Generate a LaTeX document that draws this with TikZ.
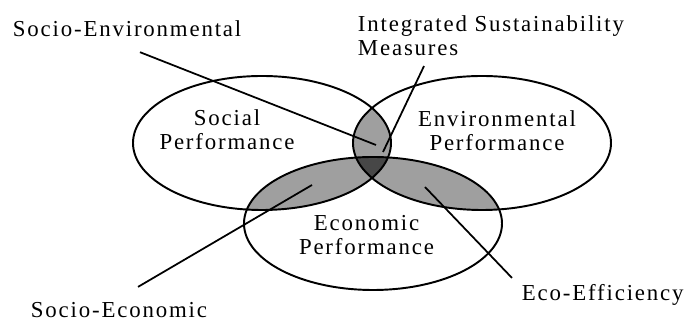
\documentclass[tikz,border=0pt]{standalone}
\usepackage{fontspec}
\setmainfont[LetterSpace=8]{Liberation Serif}
\begin{document}
\begin{tikzpicture}[line width=1.1pt,
  lbl/.style={inner sep=0pt,font=\fontsize{13pt}{13.7pt}\selectfont},
  perf/.style={lbl,align=center}]
\useasboundingbox (0,0) rectangle (13.76,6.5);
\def\socialpath{(5.24,3.64) ellipse (2.58 and 1.34)}
\def\envpath{(9.64,3.64) ellipse (2.58 and 1.34)}
\def\ecopath{(7.46,2.03) ellipse (2.58 and 1.33)}

% overlaps of two circles
\begin{scope}
\clip \socialpath;
\fill[gray!75] \envpath;
\fill[gray!75] \ecopath;
\end{scope}
\begin{scope}
\clip \envpath;
\fill[gray!75] \ecopath;
\end{scope}
% all three
\begin{scope}
\clip \socialpath;
\clip \envpath;
\fill[black!72] \ecopath;
\end{scope}

\draw \socialpath;
\draw \envpath;
\draw \ecopath;

\node[perf] (social) at (4.54,3.91) {Social\\Performance};
\node[perf] (environ) at (9.94,3.89) {Environmental\\Performance};
\node[perf] (econ) at (7.33,1.79) {Economic\\Performance};

\node[lbl,anchor=base west] (socenv) at (0.24,5.76) {Socio-Environmental};
\node[lbl,anchor=north west,align=left] (ism) at (7.14,6.2) {Integrated Sustainability\\Measures};
\node[lbl,anchor=base west] (soceco) at (0.6,0.14) {Socio-Economic};
\node[lbl,anchor=base west] (ecoeff) at (10.42,0.48) {Eco-Efficiency};

% pointer ends inside the shaded parts
\coordinate (se-end) at (7.52,3.6);
\coordinate (ism-end) at (7.66,3.46);
\coordinate (sec-end) at (6.24,2.8);
\coordinate (ee-end) at (8.5,2.76);

\draw[line width=1pt] ([shift={(2.56,-0.28)}]socenv.south west) -- (se-end);
\draw[line width=1pt] ([shift={(1.34,-0.18)}]ism.south west) -- (ism-end);
\draw[line width=1pt] ([shift={(2.16,0.3)}]soceco.north west) -- (sec-end);
\draw[line width=1pt] ([shift={(-0.18,0.12)}]ecoeff.north west) -- (ee-end);
\end{tikzpicture}
\end{document}
